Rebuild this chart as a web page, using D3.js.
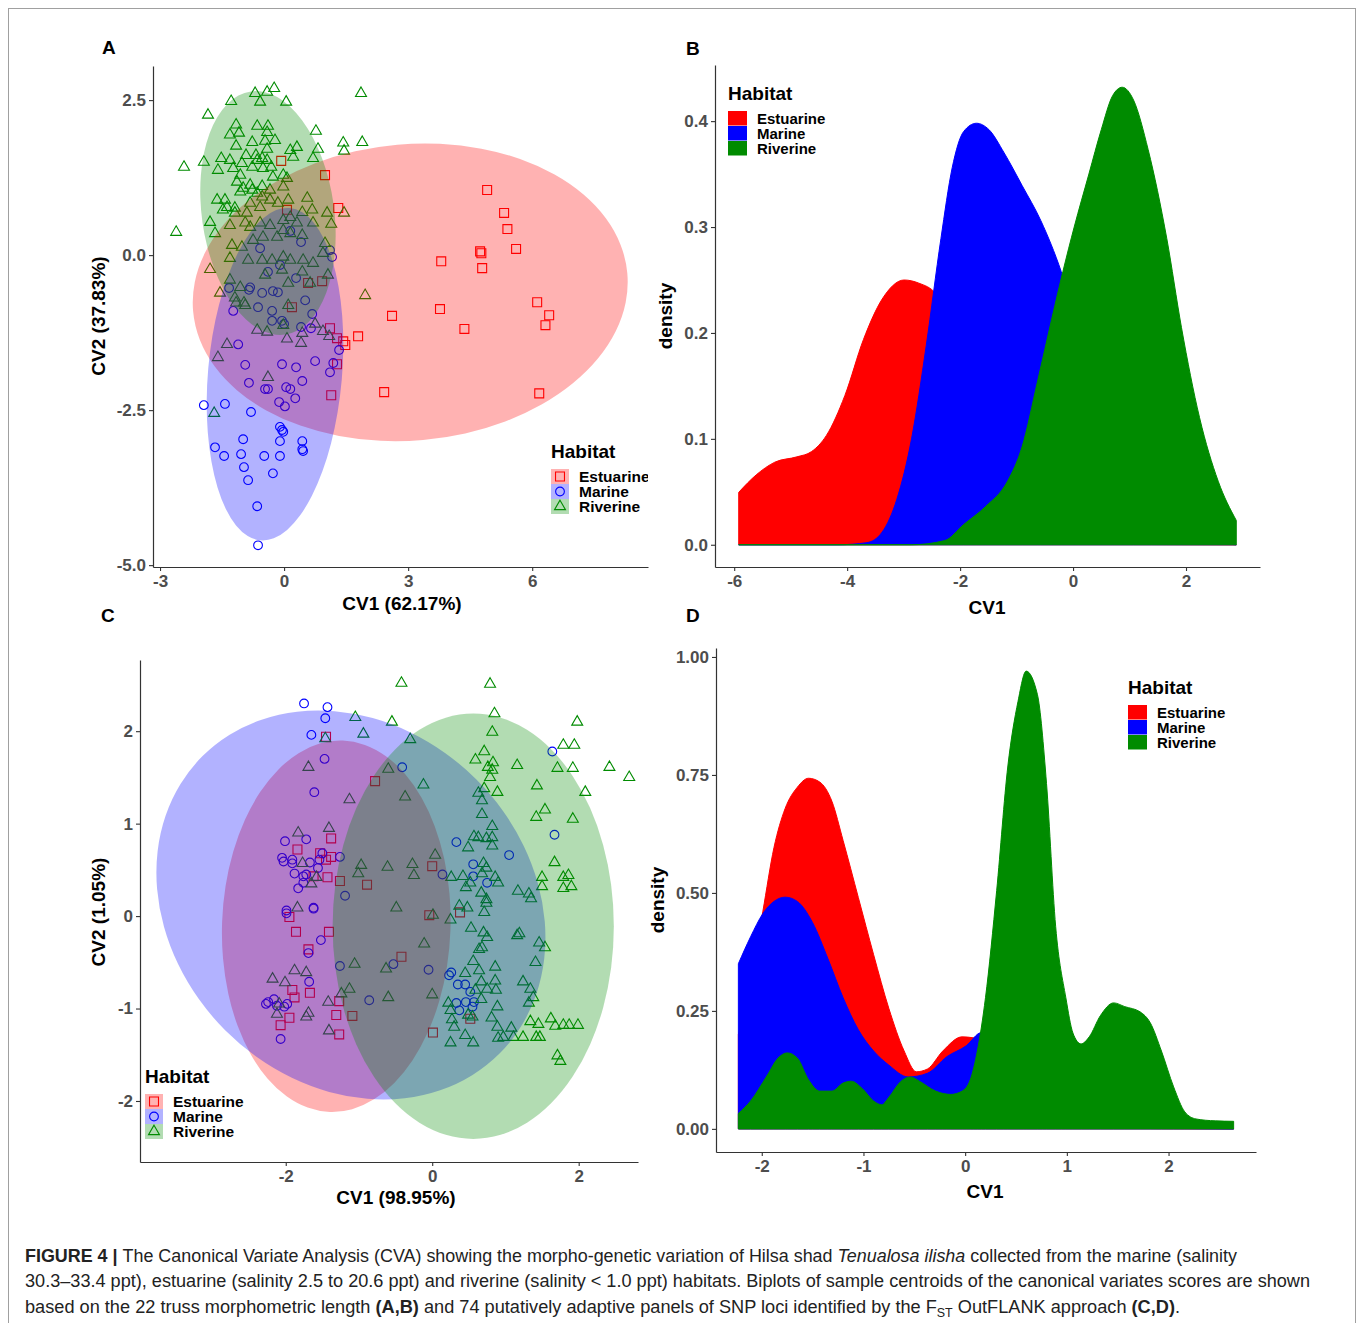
<!DOCTYPE html>
<html>
<head>
<meta charset="utf-8">
<script src="https://cdn.jsdelivr.net/npm/d3@7"></script>
<style>
  body { margin: 0; background: #fff; }
  svg { display: block; font-family: "Liberation Sans", Arial, sans-serif; }
</style>
</head>
<body>
<svg id="fig" width="1358" height="1323"></svg>
<script>
const HABITATS = ["Estuarine", "Marine", "Riverine"];
const COLORS = { Estuarine: "#FF0000", Marine: "#0000FF", Riverine: "#008B00" };

// ---- panel A : CV1 / CV2 scores, truss morphometrics ----
const A_ESTUARINE = [[4.91,1.05],[5.32,0.68],[5.40,0.42],[5.61,0.10],[4.74,0.06],[4.77,0.03],[4.79,-0.21],[3.80,-0.10],
  [3.77,-0.87],[4.36,-1.19],[6.12,-0.76],[6.41,-0.97],[6.32,-1.13],[6.17,-2.23],[2.42,-2.21],[2.61,-0.98],[1.79,-1.31],
  [1.31,0.76],[0.99,1.29],[-0.07,1.52],[0.07,0.73],[0.58,-0.45],[0.92,-0.42],[0.19,-0.84],[1.11,-1.18],[1.28,-1.34],
  [1.43,-1.39],[1.48,-1.45],[1.28,-1.76],[1.14,-2.26]];
const A_MARINE = [[-1.23,-0.90],[-0.63,-0.84],[-0.29,-0.90],[-0.29,-1.06],[-0.05,-1.06],[0.00,-1.11],[0.68,-0.95],[0.41,-1.16],
  [0.65,-1.18],[1.33,-1.53],[-1.11,-1.44],[-0.94,-1.77],[-0.05,-1.76],[0.29,-1.81],[0.75,-1.71],[1.19,-1.74],[1.11,-1.89],
  [-0.85,-2.06],[-0.46,-2.16],[-0.39,-2.16],[0.05,-2.13],[0.15,-2.16],[0.44,-2.03],[0.27,-2.31],[-0.12,-2.37],[0.02,-2.44],
  [-1.94,-2.42],[-1.43,-2.40],[-0.80,-2.53],[-0.10,-2.77],[-0.05,-2.82],[-0.02,-2.85],[-0.10,-3.00],[0.44,-3.00],[0.44,-3.13],
  [0.46,-3.16],[-0.99,-2.97],[-1.67,-3.10],[-1.45,-3.24],[-1.04,-3.21],[-0.48,-3.24],[-0.10,-3.24],[-0.97,-3.42],[-0.27,-3.52],
  [-0.87,-3.63],[-0.65,-4.05],[-0.63,-4.68],[0.41,0.21],[1.11,0.08],[1.16,-0.03],[-0.58,0.11],[-0.10,-0.16],[-0.82,-0.52],
  [-0.85,-0.56],[-0.53,-0.61],[-0.27,-0.58],[-0.15,-0.60],[-1.33,-0.53],[0.29,-0.37],[0.51,-0.73],[-0.39,-0.27],[0.15,0.39]];
const A_RIVERINE = [[-0.24,2.69],[-0.41,2.63],[-0.70,2.61],[-0.58,2.47],[-1.28,2.48],[0.05,2.47],[1.86,2.61],[-1.84,2.26],
  [-1.16,2.10],[-0.65,2.08],[-0.39,2.08],[-0.41,1.98],[0.77,2.00],[-1.31,1.94],[-1.09,1.97],[-0.22,1.85],[-0.77,1.82],
  [-0.46,1.84],[1.43,1.81],[1.89,1.82],[1.45,1.68],[-1.16,1.76],[-0.92,1.61],[-0.68,1.61],[-0.41,1.71],[0.82,1.71],
  [0.15,1.69],[0.31,1.74],[0.22,1.58],[-1.52,1.56],[-1.94,1.50],[-2.42,1.42],[-1.31,1.53],[-1.02,1.48],[-0.65,1.53],
  [-0.53,1.56],[-0.41,1.53],[-0.77,1.42],[-0.51,1.40],[-0.31,1.42],[0.70,1.56],[-1.60,1.37],[-1.23,1.40],[-1.06,1.29],
  [-0.27,1.26],[-0.02,1.29],[0.07,1.24],[-1.14,1.18],[-0.82,1.13],[-0.53,1.11],[-1.06,1.02],[-0.99,1.08],[-0.77,1.05],
  [-0.65,1.00],[-0.34,1.05],[-0.02,1.10],[-1.62,0.89],[-1.43,0.89],[-1.38,0.77],[-1.19,0.76],[-0.82,0.84],[-0.53,0.94],
  [-0.34,0.89],[-0.15,0.84],[0.10,0.89],[0.56,0.92],[-1.48,0.73],[-1.19,0.68],[-0.90,0.68],[-0.58,0.77],[0.15,0.61],
  [0.44,0.69],[0.68,0.73],[1.04,0.68],[1.45,0.68],[-1.79,0.53],[-1.67,0.35],[-1.31,0.48],[-0.94,0.52],[-0.82,0.45],
  [-0.58,0.52],[-0.34,0.48],[-0.02,0.56],[0.31,0.52],[0.70,0.52],[1.14,0.50],[-2.61,0.37],[-1.26,0.16],[-1.02,0.13],
  [-0.75,0.24],[-0.51,0.29],[-0.17,0.29],[-0.02,0.40],[0.15,0.35],[0.44,0.32],[0.99,0.19],[-0.87,-0.08],[-0.53,-0.08],
  [-0.29,-0.08],[-0.02,-0.03],[0.15,-0.08],[0.46,-0.08],[-1.31,-0.05],[-1.79,-0.23],[-0.46,-0.32],[-0.05,-0.24],[0.44,-0.27],
  [0.70,-0.13],[0.94,0.03],[1.06,-0.32],[-1.31,-0.40],[-1.06,-0.52],[-1.55,-0.61],[0.63,-0.45],[0.10,-0.45],[1.96,-0.65],
  [-1.19,-0.69],[-0.94,-0.81],[0.10,-0.81],[-1.16,-0.77],[-0.97,-0.77],[-0.65,-1.21],[-0.41,-1.24],[-0.02,-1.13],[0.07,-1.35],
  [0.44,-1.26],[0.41,-1.42],[0.75,-1.11],[0.94,-1.23],[1.09,-1.31],[-1.38,-1.44],[-1.60,-1.65],[-0.39,-1.97],[-1.69,-2.55]];
// 95% ellipses: centre cv1, centre cv2, half-width cv1, half-height cv2, tilt (deg)
const A_ELLIPSES = { Estuarine: [3.05,-0.60,5.27,2.39,-5], Marine: [-0.22,-1.92,1.62,2.69,5], Riverine: [-0.39,0.68,1.60,1.98,-8] };

// ---- panel C : CV1 / CV2 scores, SNP loci ----
const C_ESTUARINE = [[-1.45,1.94],[-0.78,1.46],[-1.38,0.84],[-1.84,0.72],[-1.53,0.68],[-1.45,0.61],[-1.38,0.64],[-1.43,0.42],
  [-1.62,0.43],[-1.26,0.38],[-0.89,0.34],[-1.95,-0.01],[-1.86,-0.17],[-1.41,-0.17],[-1.69,-0.36],[-0.42,-0.44],[-1.91,-0.80],
  [-1.88,-0.88],[-1.67,-0.83],[-1.27,-0.92],[-1.31,-1.07],[-1.09,-1.08],[-1.95,-1.10],[-2.07,-1.18],[-1.27,-1.28],[0.00,0.54],
  [-0.04,0.01],[0.38,0.04],[0.01,-1.26],[0.52,-1.11]];
const C_MARINE = [[-1.75,2.30],[-1.43,2.26],[-1.46,2.14],[-1.65,1.96],[-1.47,1.70],[-1.61,1.34],[-2.01,0.81],[-1.72,0.83],
  [-1.50,0.68],[-1.26,0.64],[-2.05,0.63],[-2.03,0.59],[-1.91,0.61],[-1.91,0.57],[-1.67,0.58],[-1.56,0.52],[-1.54,0.61],
  [-1.88,0.46],[-1.76,0.43],[-1.72,0.45],[-1.76,0.36],[-1.83,0.30],[-1.19,0.22],[-1.62,0.09],[-1.99,0.06],[-1.99,0.03],
  [-1.62,0.08],[-1.52,-0.26],[-1.69,-0.40],[-1.26,-0.54],[-1.68,-0.71],[-2.27,-0.95],[-2.24,-0.93],[-2.16,-0.90],[-2.12,-0.97],
  [-2.02,-0.98],[-1.98,-0.95],[-2.07,-1.33],[-0.86,-0.91],[-0.53,-0.52],[-0.41,1.61],[1.64,1.78],[1.67,0.88],[1.05,0.66],
  [0.33,0.80],[0.56,0.56],[0.14,0.45],[0.56,0.43],[0.75,0.36],[-0.05,-0.58],[0.26,-0.61],[0.23,-0.64],[0.35,-0.74],
  [0.45,-0.74],[0.52,-0.82],[0.33,-0.94],[0.46,-0.93],[0.57,-0.93],[0.55,-0.98],[0.37,-1.02]];
const C_RIVERINE = [[-1.05,2.15],[-0.94,1.97],[-1.46,1.92],[-1.69,1.61],[-1.13,1.26],[-1.41,0.95],[-1.83,0.90],[-1.77,0.57],
  [-1.58,0.42],[-1.65,0.35],[-0.97,0.55],[-1.01,0.46],[-0.61,0.53],[-0.60,1.59],[-0.55,2.10],[-1.84,0.09],[-0.49,0.09],
  [-1.06,-0.52],[-0.63,-0.57],[-0.60,-0.88],[-1.88,-0.59],[-1.72,-0.61],[-2.18,-0.68],[-2.01,-0.72],[-1.24,-0.84],[-1.13,-0.79],
  [-1.42,-0.93],[-2.09,-0.95],[-2.12,-1.06],[-1.69,-1.05],[-1.72,-1.09],[-1.41,-1.24],[-0.42,2.52],[0.79,2.51],[0.85,2.19],
  [-0.30,1.91],[0.82,1.99],[1.98,2.10],[0.71,1.78],[0.59,1.69],[0.83,1.66],[1.16,1.63],[0.76,1.61],[0.82,1.58],[0.79,1.50],
  [-0.12,1.42],[-0.37,1.29],[0.71,1.38],[0.89,1.34],[0.63,1.33],[0.68,1.25],[1.79,1.85],[1.94,1.85],[1.71,1.60],[1.92,1.60],
  [2.42,1.61],[2.69,1.50],[1.43,1.41],[1.54,1.15],[1.42,1.07],[2.09,1.34],[1.92,1.05],[0.68,1.10],[0.82,0.97],[0.57,0.86],
  [0.63,0.85],[0.74,0.84],[0.82,0.85],[0.82,0.76],[1.67,0.58],[1.50,0.42],[1.50,0.32],[1.79,0.42],[1.86,0.44],[1.90,0.32],
  [1.79,0.30],[1.17,0.27],[1.32,0.24],[1.35,0.19],[0.70,0.57],[0.74,0.52],[0.68,0.46],[0.49,0.74],[0.42,0.43],[0.46,0.31],
  [0.52,0.36],[0.67,0.25],[0.74,0.18],[0.86,0.42],[0.90,0.36],[0.26,0.42],[0.04,0.66],[-0.27,0.56],[-0.25,0.44],[0.01,0.01],
  [0.25,-0.04],[0.37,0.11],[0.48,0.09],[0.74,0.14],[0.71,0.04],[0.53,-0.13],[0.70,-0.18],[0.75,-0.23],[0.64,-0.36],[0.68,-0.34],
  [-0.11,-0.30],[0.00,-0.85],[0.56,-0.49],[0.45,-0.62],[0.64,-0.59],[0.86,-0.55],[0.67,-0.71],[0.59,-0.80],[0.75,-0.79],
  [0.87,-0.80],[0.22,-0.94],[0.25,-1.02],[0.89,-0.98],[0.67,-0.90],[0.27,-1.12],[0.30,-1.20],[0.49,-1.07],[0.55,-1.09],
  [0.81,-1.10],[0.89,-1.20],[0.45,-1.29],[0.25,-1.37],[0.56,-1.37],[0.90,-1.32],[1.08,-1.21],[0.97,-1.31],[1.11,-1.31],
  [1.24,-1.31],[1.42,-1.31],[1.47,-1.31],[1.19,-0.19],[1.54,-0.34],[1.46,-0.29],[1.41,-0.50],[1.24,-0.71],[1.34,-0.79],
  [1.38,-0.88],[1.32,-0.94],[1.34,-1.14],[1.45,-1.17],[1.62,-1.11],[1.68,-1.19],[1.79,-1.18],[1.87,-1.18],[1.99,-1.18],
  [1.71,-1.51],[1.75,-1.57],[0.86,-0.70],[1.16,-0.21]];
const C_ELLIPSES = { Estuarine: [-1.31,-0.11,1.56,2.01,2], Marine: [-1.11,0.12,2.87,1.92,45], Riverine: [0.56,-0.11,1.92,2.30,0] };

// ---- panel B : density of CV1 (truss) ----
const B_ESTUARINE = [[-5.92,0.0495],[-5.61,0.066],[-5.28,0.078],[-4.89,0.083],[-4.63,0.088],[-4.37,0.103],[-4.04,0.141],
  [-3.71,0.194],[-3.38,0.232],[-2.99,0.250],[-2.73,0.247],[-2.43,0.237],[-2.21,0.215],[-1.81,0.154],[-1.22,0.070],
  [-0.57,0.019],[0.09,0.002],[1.07,0.0003],[2.89,0]];
const B_MARINE = [[-5.92,0],[-4.17,0],[-3.65,0.002],[-3.38,0.012],[-3.12,0.043],[-2.86,0.100],[-2.60,0.188],[-2.34,0.289],
  [-2.14,0.356],[-1.94,0.390],[-1.71,0.398],[-1.49,0.392],[-1.22,0.370],[-0.90,0.339],[-0.57,0.306],[-0.21,0.258],
  [0.09,0.205],[0.74,0.100],[1.39,0.036],[2.05,0.006],[2.89,0]];
const B_RIVERINE = [[-5.92,0],[-2.86,0],[-2.27,0.004],[-1.94,0.019],[-1.55,0.036],[-1.16,0.060],[-0.90,0.093],[-0.63,0.154],
  [-0.37,0.215],[-0.18,0.258],[0.02,0.300],[0.28,0.350],[0.50,0.392],[0.70,0.424],[0.87,0.432],[1.07,0.420],[1.33,0.373],
  [1.66,0.289],[1.92,0.205],[2.24,0.120],[2.57,0.060],[2.89,0.023]];

// ---- panel D : density of CV1 (SNP) ----
const D_ESTUARINE = [[-2.23,0.20],[-2.11,0.316],[-1.99,0.46],[-1.88,0.596],[-1.77,0.679],[-1.65,0.724],[-1.54,0.743],
  [-1.43,0.735],[-1.31,0.694],[-1.20,0.611],[-1.05,0.490],[-0.90,0.369],[-0.75,0.255],[-0.60,0.165],[-0.48,0.121],
  [-0.37,0.127],[-0.22,0.165],[-0.03,0.195],[0.08,0.193],[0.20,0.187],[0.38,0.09],[0.76,0.014],[1.14,0.002],[2.64,0]];
const D_MARINE = [[-2.23,0.35],[-2.11,0.407],[-1.99,0.456],[-1.88,0.482],[-1.77,0.491],[-1.65,0.482],[-1.50,0.437],
  [-1.35,0.361],[-1.20,0.278],[-1.05,0.210],[-0.90,0.165],[-0.75,0.135],[-0.56,0.110],[-0.37,0.118],[-0.18,0.153],
  [0.01,0.176],[0.16,0.204],[0.31,0.127],[0.57,0.036],[0.95,0.006],[2.64,0]];
const D_RIVERINE = [[-2.23,0.0325],[-2.11,0.059],[-1.95,0.112],[-1.84,0.150],[-1.75,0.161],[-1.65,0.150],[-1.54,0.104],
  [-1.43,0.080],[-1.31,0.080],[-1.20,0.097],[-1.12,0.101],[-1.01,0.085],[-0.90,0.059],[-0.82,0.051],[-0.75,0.067],
  [-0.63,0.101],[-0.54,0.110],[-0.45,0.101],[-0.29,0.080],[-0.14,0.073],[-0.03,0.080],[0.05,0.104],[0.12,0.165],
  [0.20,0.278],[0.31,0.505],[0.42,0.769],[0.52,0.906],[0.60,0.970],[0.71,0.921],[0.80,0.732],[0.89,0.429],[0.99,0.278],
  [1.06,0.203],[1.14,0.180],[1.22,0.195],[1.33,0.240],[1.46,0.267],[1.57,0.259],[1.72,0.248],[1.82,0.225],[1.93,0.165],
  [2.05,0.089],[2.16,0.036],[2.27,0.021],[2.46,0.017],[2.64,0.016]];

const svg = d3.select("#fig");
svg.append("rect").attr("width", 1358).attr("height", 1323).attr("fill", "#fff");
svg.append("rect").attr("x", 8.5).attr("y", 8.5).attr("width", 1347).attr("height", 1340)
  .attr("fill", "none").attr("stroke", "#a0a0a0");

const SYMBOLS = {
  Estuarine: d3.symbol().type(d3.symbolSquare).size(80),
  Marine: d3.symbol().type(d3.symbolCircle).size(60),
  Riverine: d3.symbol().type(d3.symbolTriangle).size(52)
};

function drawAxes(g, x, y, xTicks, yTicks, yFmt) {
  const ax = g.append("g").attr("transform", `translate(0,${y.range()[0]})`)
    .call(d3.axisBottom(x).tickValues(xTicks).tickSize(4).tickSizeOuter(0).tickPadding(4).tickFormat(d => String(d)));
  const ay = g.append("g").attr("transform", `translate(${x.range()[0]},0)`)
    .call(d3.axisLeft(y).tickValues(yTicks).tickSize(4).tickSizeOuter(0).tickPadding(3).tickFormat(yFmt));
  [ax, ay].forEach(a => {
    a.select(".domain").attr("stroke", "#333").attr("stroke-width", 1.2);
    a.selectAll(".tick line").attr("stroke", "#333").attr("stroke-width", 1.1);
    a.selectAll(".tick text").attr("fill", "#4d4d4d").style("font-size", "17px").style("font-weight", "bold");
  });
}

function labels(p) {
  svg.append("text").attr("x", p.letter[0]).attr("y", p.letter[1]).text(p.letter[2])
    .style("font-size", "19px").style("font-weight", "bold");
  svg.append("text").attr("x", p.xlab[0]).attr("y", p.xlab[1]).attr("text-anchor", "middle").text(p.xlab[2])
    .style("font-size", "19px").style("font-weight", "bold");
  svg.append("text").attr("transform", `translate(${p.ylab[0]},${p.ylab[1]}) rotate(-90)`)
    .attr("text-anchor", "middle").text(p.ylab[2]).style("font-size", "19px").style("font-weight", "bold");
}

function legend(g, lx, ly, withPoints) {
  g.append("text").attr("x", lx).attr("y", ly).text("Habitat")
    .style("font-size", "19px").style("font-weight", "bold");
  HABITATS.forEach((h, i) => {
    const ky = ly + 11 + i * 15;
    if (withPoints) {
      g.append("rect").attr("x", lx).attr("y", ky).attr("width", 18).attr("height", 15)
        .attr("fill", COLORS[h]).attr("fill-opacity", 0.3);
      g.append("path").attr("d", SYMBOLS[h]()).attr("transform", `translate(${lx + 9},${ky + 7.5})`)
        .attr("fill", "none").attr("stroke", COLORS[h]).attr("stroke-width", 1.1);
    } else {
      g.append("rect").attr("x", lx).attr("y", ky).attr("width", 19).attr("height", 14.5)
        .attr("fill", COLORS[h]);
    }
    g.append("text").attr("x", lx + (withPoints ? 28 : 29)).attr("y", ky + 12.5).text(h)
      .style("font-size", withPoints ? "15.5px" : "15px").style("font-weight", "bold");
  });
}

function scatterPanel(p) {
  const x = d3.scaleLinear().domain(p.xd).range(p.xr);
  const y = d3.scaleLinear().domain(p.yd).range(p.yr);
  const g = svg.append("g");
  // points first, the filled ellipses are laid over them
  HABITATS.forEach(h => {
    g.append("g").selectAll("path").data(p.pts[h]).join("path")
      .attr("d", SYMBOLS[h]())
      .attr("transform", d => `translate(${x(d[0])},${y(d[1])})`)
      .attr("fill", "none").attr("stroke", COLORS[h]).attr("stroke-width", 1.1);
  });
  HABITATS.forEach(h => {
    const e = p.ell[h];
    const cx = x(e[0]), cy = y(e[1]);
    g.append("ellipse").attr("cx", cx).attr("cy", cy)
      .attr("rx", x(e[0] + e[2]) - cx).attr("ry", cy - y(e[1] + e[3]))
      .attr("transform", `rotate(${e[4]},${cx},${cy})`)
      .attr("fill", COLORS[h]).attr("fill-opacity", 0.3);
  });
  drawAxes(g, x, y, p.xt, p.yt, p.yfmt);
  const lg = svg.append("g");
  if (p.clip) {
    svg.append("clipPath").attr("id", p.clip.id).append("rect")
      .attr("x", p.clip.x0).attr("y", 0).attr("width", p.clip.x1 - p.clip.x0).attr("height", 1323);
    lg.attr("clip-path", `url(#${p.clip.id})`);
  }
  legend(lg, p.leg[0], p.leg[1], true);
  labels(p);
}

function densityPanel(p) {
  const x = d3.scaleLinear().domain(p.xd).range(p.xr);
  const y = d3.scaleLinear().domain(p.yd).range(p.yr);
  const g = svg.append("g");
  const area = d3.area().x(d => x(d[0])).y0(y(0)).y1(d => y(d[1])).curve(d3.curveMonotoneX);
  HABITATS.forEach(h => {
    g.append("path").datum(p.curves[h]).attr("d", area)
      .attr("fill", COLORS[h]).attr("stroke", COLORS[h]).attr("stroke-width", 1);
  });
  drawAxes(g, x, y, p.xt, p.yt, p.yfmt);
  legend(svg.append("g"), p.leg[0], p.leg[1], false);
  labels(p);
}

scatterPanel({
  xd: [-3.17, 8.8], xr: [153, 648], yd: [-5.03, 3.05], yr: [567, 66],
  xt: [-3, 0, 3, 6], yt: [2.5, 0, -2.5, -5], yfmt: d => d.toFixed(1),
  pts: { Estuarine: A_ESTUARINE, Marine: A_MARINE, Riverine: A_RIVERINE }, ell: A_ELLIPSES,
  leg: [551, 458], clip: { id: "clipA", x0: 540, x1: 648 },
  letter: [102, 54, "A"], xlab: [402, 610, "CV1 (62.17%)"], ylab: [105, 316, "CV2 (37.83%)"]
});

densityPanel({
  xd: [-6.34, 3.31], xr: [715, 1260], yd: [-0.021, 0.453], yr: [567, 65],
  xt: [-6, -4, -2, 0, 2], yt: [0, 0.1, 0.2, 0.3, 0.4], yfmt: d => d.toFixed(1),
  curves: { Estuarine: B_ESTUARINE, Marine: B_MARINE, Riverine: B_RIVERINE },
  leg: [728, 100],
  letter: [686, 55, "B"], xlab: [987, 614, "CV1"], ylab: [672, 316, "density"]
});

scatterPanel({
  xd: [-3.99, 2.81], xr: [140, 638], yd: [-2.66, 2.77], yr: [1162, 660],
  xt: [-2, 0, 2], yt: [-2, -1, 0, 1, 2], yfmt: d => String(d),
  pts: { Estuarine: C_ESTUARINE, Marine: C_MARINE, Riverine: C_RIVERINE }, ell: C_ELLIPSES,
  leg: [145, 1083],
  letter: [101, 622, "C"], xlab: [396, 1204, "CV1 (98.95%)"], ylab: [105, 912, "CV2 (1.05%)"]
});

densityPanel({
  xd: [-2.45, 2.86], xr: [716, 1256], yd: [-0.049, 1.019], yr: [1152, 648],
  xt: [-2, -1, 0, 1, 2], yt: [0, 0.25, 0.5, 0.75, 1], yfmt: d => d.toFixed(2),
  curves: { Estuarine: D_ESTUARINE, Marine: D_MARINE, Riverine: D_RIVERINE },
  leg: [1128, 694],
  letter: [686, 622, "D"], xlab: [985, 1198, "CV1"], ylab: [664, 900, "density"]
});

// caption
const cap = svg.append("g").style("font-size", "17.5px").attr("fill", "#222");
const l1 = cap.append("text").attr("x", 25).attr("y", 1262).attr("textLength", 1212).attr("lengthAdjust", "spacingAndGlyphs");
l1.append("tspan").style("font-weight", "bold").text("FIGURE 4 | ");
l1.append("tspan").text("The Canonical Variate Analysis (CVA) showing the morpho-genetic variation of Hilsa shad ");
l1.append("tspan").style("font-style", "italic").text("Tenualosa ilisha");
l1.append("tspan").text(" collected from the marine (salinity");
cap.append("text").attr("x", 25).attr("y", 1287).attr("textLength", 1285).attr("lengthAdjust", "spacingAndGlyphs")
  .text("30.3–33.4 ppt), estuarine (salinity 2.5 to 20.6 ppt) and riverine (salinity < 1.0 ppt) habitats. Biplots of sample centroids of the canonical variates scores are shown");
const l3 = cap.append("text").attr("x", 25).attr("y", 1313).attr("textLength", 1155).attr("lengthAdjust", "spacingAndGlyphs");
l3.append("tspan").text("based on the 22 truss morphometric length ");
l3.append("tspan").style("font-weight", "bold").text("(A,B)");
l3.append("tspan").text(" and 74 putatively adaptive panels of SNP loci identified by the F");
l3.append("tspan").attr("dy", 4).style("font-size", "12px").text("ST");
l3.append("tspan").attr("dy", -4).text(" OutFLANK approach ");
l3.append("tspan").style("font-weight", "bold").text("(C,D)");
l3.append("tspan").text(".");
</script>
</body>
</html>
